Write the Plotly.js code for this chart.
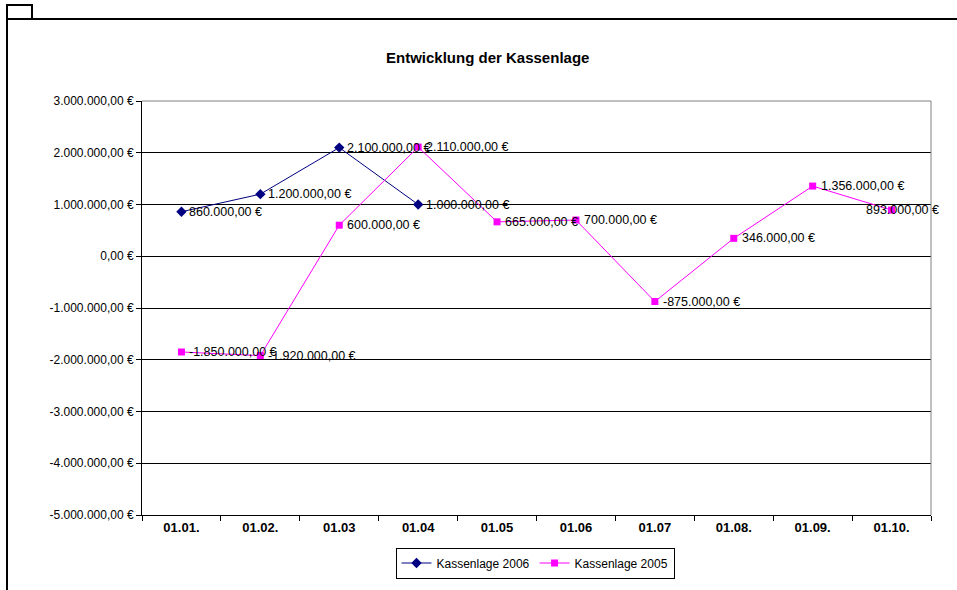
<!DOCTYPE html>
<html>
<head>
<meta charset="utf-8">
<script src="https://cdn.plot.ly/plotly-3.0.1.min.js"></script>
<style>
  html, body { margin: 0; padding: 0; background: #fff; }
  #chart { width: 957px; height: 590px; }
</style>
</head>
<body>
<div id="chart"></div>
<script>
// Stichtage (Monatsanfang)
const categories = ["01.01.", "01.02.", "01.03", "01.04", "01.05", "01.06", "01.07", "01.08.", "01.09.", "01.10."];

// Kassenlage in Euro
const values2006 = [860000, 1200000, 2100000, 1000000];
const values2005 = [-1850000, -1920000, 600000, 2110000, 665000, 700000, -875000, 346000, 1356000, 893000];

const seriesNames = ["Kassenlage 2006", "Kassenlage 2005"];
const yTickValues = [-5000000, -4000000, -3000000, -2000000, -1000000, 0, 1000000, 2000000, 3000000];

const W = 957, H = 590;
const M = { l: 142, r: 26, t: 101, b: 75 };
const plotW = W - M.l - M.r, plotH = H - M.t - M.b;
const px = p => (p - M.l) / plotW;
const py = q => (H - M.b - q) / plotH;

function euro(v) {
  const neg = v < 0;
  const s = Math.abs(Math.round(v)).toString().replace(/\B(?=(\d{3})+(?!\d))/g, ".");
  return (neg ? "-" : "") + s + ",00 €";
}

const font = "Liberation Sans, Arial, sans-serif";

const traces = [
  {
    x: categories.slice(0, values2006.length),
    y: values2006,
    name: seriesNames[0],
    type: "scatter",
    mode: "lines+markers",
    line: { color: "#000080", width: 1 },
    marker: { symbol: "diamond", size: 8, color: "#000080" },
    cliponaxis: false
  },
  {
    x: categories,
    y: values2005,
    name: seriesNames[1],
    type: "scatter",
    mode: "lines+markers",
    line: { color: "#FF00FF", width: 1 },
    marker: { symbol: "square", size: 7, color: "#FF00FF" },
    cliponaxis: false
  }
];

// Datenbeschriftungen rechts neben den Punkten (x als Kategorie-Index)
const annotations = [];
function addLabels(vals) {
  vals.forEach((v, i) => {
    const last = i === categories.length - 1;
    annotations.push({
      x: i, y: v, xref: "x", yref: "y",
      text: euro(v), showarrow: false,
      xanchor: last ? "right" : "left",
      xshift: last ? 49 : 6,
      font: { family: font, size: 12.5, color: "#000" }
    });
  });
}
addLabels(values2006);
addLabels(values2005);

annotations.push({
  text: "Entwicklung der Kassenlage", xref: "paper", yref: "paper",
  x: px(487), y: py(58), showarrow: false, xanchor: "center", yanchor: "middle",
  font: { family: font, size: 15, color: "#000", weight: "bold" }
});

const shapes = [
  // Rahmen des Diagrammbereichs
  { type: "line", xref: "paper", yref: "paper", x0: 0, x1: 1, y0: 1, y1: 1, line: { color: "#808080", width: 1 } },
  { type: "line", xref: "paper", yref: "paper", x0: 1, x1: 1, y0: 0, y1: 1, line: { color: "#808080", width: 1 } },
  // Äußerer Rahmen
  { type: "line", xref: "paper", yref: "paper", x0: px(7), x1: px(960), y0: py(19), y1: py(19), line: { color: "#000", width: 2 } },
  { type: "line", xref: "paper", yref: "paper", x0: px(7), x1: px(7), y0: py(19), y1: py(592), line: { color: "#000", width: 2 } },
  { type: "rect", xref: "paper", yref: "paper", x0: px(7), x1: px(32), y0: py(19), y1: py(5), line: { color: "#000", width: 2 } }
];

const layout = {
  width: W, height: H,
  margin: M,
  paper_bgcolor: "#fff",
  plot_bgcolor: "#fff",
  showlegend: true,
  legend: {
    orientation: "h",
    x: px(535), y: py(563), xanchor: "center", yanchor: "middle",
    bordercolor: "#000", borderwidth: 1,
    font: { family: font, size: 12, color: "#000" },
    itemwidth: 30,
    tracegroupgap: 0
  },
  xaxis: {
    type: "category",
    categoryorder: "array",
    categoryarray: categories,
    range: [-0.5, categories.length - 0.5],
    tickson: "boundaries",
    ticks: "outside", ticklen: 5, tickcolor: "#000",
    showline: true, linecolor: "#000", linewidth: 1,
    showgrid: false, zeroline: false,
    tickfont: { family: font, size: 13, color: "#000", weight: "bold" },
    fixedrange: true
  },
  yaxis: {
    range: [-5000000, 3000000],
    tickmode: "array",
    tickvals: yTickValues,
    ticktext: yTickValues.map(euro),
    ticks: "outside", ticklen: 5, tickcolor: "#000",
    showline: true, linecolor: "#000", linewidth: 1,
    showgrid: true, gridcolor: "#000", gridwidth: 1,
    zeroline: true, zerolinecolor: "#000", zerolinewidth: 1,
    tickfont: { family: font, size: 12, color: "#000" },
    fixedrange: true
  },
  annotations: annotations,
  shapes: shapes
};

Plotly.newPlot("chart", traces, layout, { displayModeBar: false, staticPlot: true });
</script>
</body>
</html>
